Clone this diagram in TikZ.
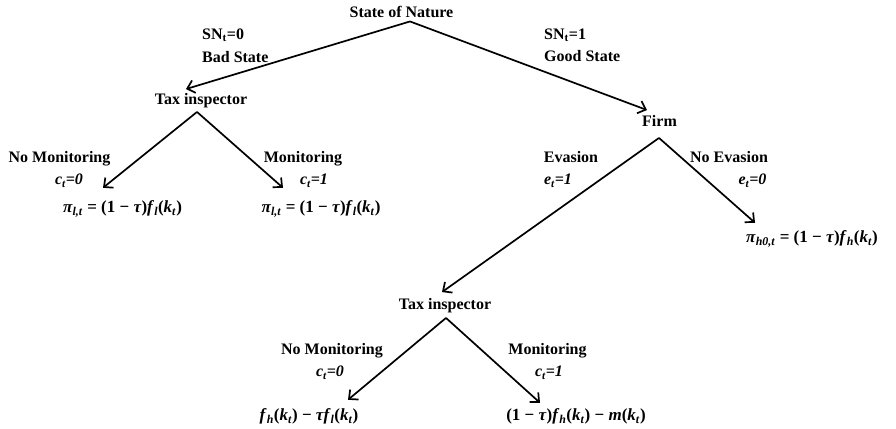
\documentclass[tikz,border=0pt]{standalone}
\usepackage{fontspec}
\setmainfont{Liberation Serif}
\usetikzlibrary{arrows.meta}
\tikzset{
  lbl/.style={inner sep=0pt, text height=11pt, text depth=3.5pt, font=\bfseries\fontsize{16}{19}\selectfont},
  pay/.style={inner sep=0pt, text height=13pt, text depth=5pt, font=\bfseries\fontsize{17}{20}\selectfont},
  arr/.style={line width=1.7pt, -{Straight Barb[length=7pt,width=13pt]}}
}
\newcommand{\bi}[1]{\textit{#1}}
\newcommand{\sub}[1]{\textsubscript{\textit{#1}}}
\begin{document}
\begin{tikzpicture}[x=1pt,y=-1pt]
\useasboundingbox (0,0) rectangle (896,428);

\node[lbl] (N) at (401.5,14) {State of Nature};
\node[lbl, anchor=west] (SN0) at (202,35.5) {SN\textsubscript{t}=0};
\node[lbl, anchor=west] (Bad) at (202,58.5) {Bad State};
\node[lbl, anchor=west] (SN1) at (544,35.5) {SN\textsubscript{t}=1};
\node[lbl, anchor=west] (Good) at (544,57.5) {Good State};

\node[lbl] (T1) at (201,100.5) {Tax inspector};
\node[lbl] (F) at (659.5,122.5) {Firm};

\node[lbl] (NM1) at (59.5,159) {No Monitoring};
\node[lbl] (c0a) at (69,181) {\textit{c\textsubscript{t}=0}};
\node[lbl] (M1) at (303,159) {Monitoring};
\node[lbl] (c1a) at (314,181) {\textit{c\textsubscript{t}=1}};
\node[pay] (P1) at (122.5,208.5) {\bi{π}\sub{l,t} = (1 − \bi{τ})\bi{f}\sub{l}(\bi{k}\sub{t})};
\node[pay] (P2) at (321,208.5) {\bi{π}\sub{l,t} = (1 − \bi{τ})\bi{f}\sub{l}(\bi{k}\sub{t})};

\node[lbl] (E) at (571,159) {Evasion};
\node[lbl] (e1) at (558,181) {\textit{e\textsubscript{t}=1}};
\node[lbl] (NE) at (729,159) {No Evasion};
\node[lbl] (e0) at (752.5,181) {\textit{e\textsubscript{t}=0}};
\node[pay] (P3) at (812,238.5) {\bi{π}\sub{h0,t} = (1 − \bi{τ})\bi{f}\sub{h}(\bi{k}\sub{t})};

\node[lbl] (T2) at (445,305.5) {Tax inspector};
\node[lbl] (NM2) at (332,350.5) {No Monitoring};
\node[lbl] (c0b) at (330,373) {\textit{c\textsubscript{t}=0}};
\node[lbl] (M2) at (547.5,350.5) {Monitoring};
\node[lbl] (c1b) at (549,373) {\textit{c\textsubscript{t}=1}};
\node[pay] (P4) at (309,416.5) {\bi{f}\sub{h}(\bi{k}\sub{t}) − \bi{τf}\sub{l}(\bi{k}\sub{t})};
\node[pay] (P5) at (576,416.5) {(1 − \bi{τ})\bi{f}\sub{h}(\bi{k}\sub{t}) − \bi{m}(\bi{k}\sub{t})};

\draw[arr] ([xshift=8.5pt]N.south) -- ([xshift=-15pt,yshift=4pt]T1.north);
\draw[arr] ([xshift=8.5pt]N.south) -- ([xshift=-12.5pt,yshift=5pt]F.north);
\draw[arr] ([xshift=-4pt,yshift=-4pt]T1.south) -- ([xshift=-19.5pt,yshift=11.5pt]P1.north);
\draw[arr] ([xshift=-4pt,yshift=-4pt]T1.south) -- ([xshift=-38pt,yshift=11.5pt]P2.north);
\draw[arr] ([xshift=-0.5pt,yshift=-8pt]F.south) -- ([xshift=-3pt,yshift=6pt]T2.north);
\draw[arr] ([xshift=-0.5pt,yshift=-8pt]F.south) -- ([xshift=-57pt,yshift=6.5pt]P3.north);
\draw[arr] ([xshift=1pt,yshift=-5pt]T2.south) -- ([xshift=39pt,yshift=7.5pt]P4.north);
\draw[arr] ([xshift=1pt,yshift=-5pt]T2.south) -- ([xshift=-36pt,yshift=4.5pt]P5.north);
\end{tikzpicture}
\end{document}
